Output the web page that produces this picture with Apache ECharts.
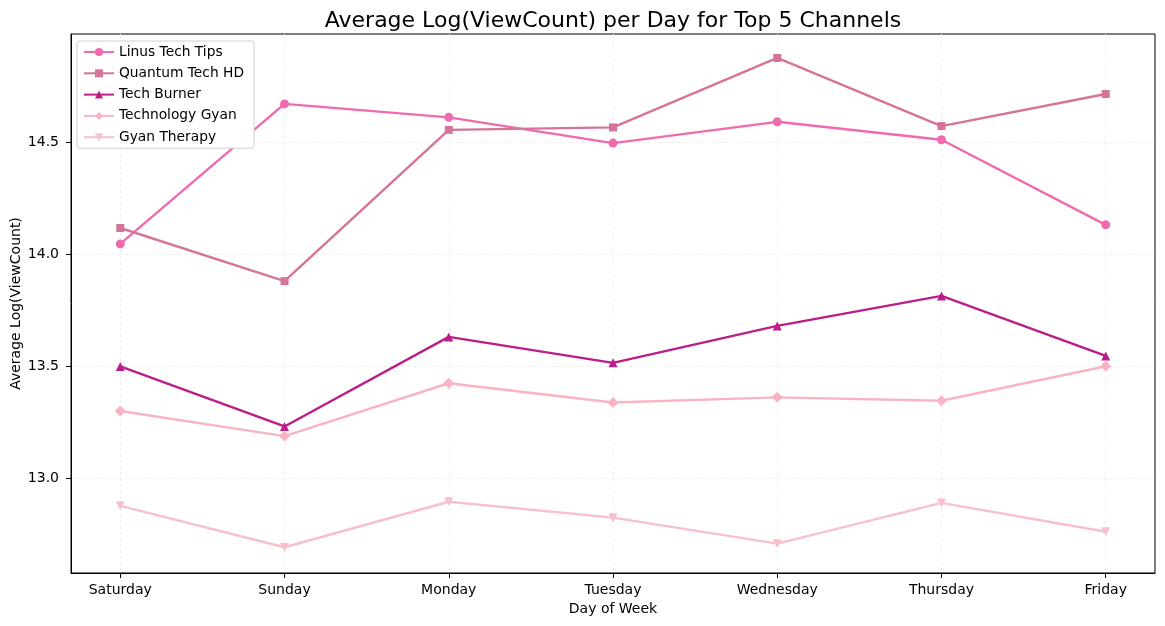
<!DOCTYPE html>
<html>
<head>
<meta charset="utf-8">
<script src="https://cdn.jsdelivr.net/npm/echarts@6/dist/echarts.min.js"></script>
<style>
html, body { margin: 0; padding: 0; background: #fff; }
#chart { width: 1165px; height: 626px; }
</style>
</head>
<body>
<div id="chart"></div>
<script>
// days along the x axis
var days = ['Saturday', 'Sunday', 'Monday', 'Tuesday', 'Wednesday', 'Thursday', 'Friday'];
var yTicks = [13.0, 13.5, 14.0, 14.5];

// average log(view count) per channel
var linusTechTips   = [14.045, 14.67, 14.61, 14.495, 14.59, 14.51, 14.13];
var quantumTechHD   = [14.116, 13.879, 14.554, 14.565, 14.875, 14.571, 14.714];
var techBurner      = [13.498, 13.23, 13.63, 13.514, 13.679, 13.813, 13.545];
var technologyGyan  = [13.299, 13.187, 13.423, 13.337, 13.36, 13.345, 13.499];
var gyanTherapy     = [12.876, 12.691, 12.894, 12.823, 12.707, 12.889, 12.76];

var channels = [
    { name: 'Linus Tech Tips', data: linusTechTips, color: '#f06aae', symbol: 'circle', size: 9 },
    { name: 'Quantum Tech HD', data: quantumTechHD, color: '#d5749a', symbol: 'rect', size: 8 },
    { name: 'Tech Burner', data: techBurner, color: '#bb1e88', symbol: 'triangle', size: 9 },
    { name: 'Technology Gyan', data: technologyGyan, color: '#f9b4c4', symbol: 'diamond', size: 11 },
    { name: 'Gyan Therapy', data: gyanTherapy, color: '#f8bfcc', symbol: 'path://M0,0 L10,0 L5,9 Z', size: 9 }
];

var font = 'DejaVu Sans';
var chart = echarts.init(document.getElementById('chart'));

var series = channels.map(function (c) {
    return {
        name: c.name,
        type: 'line',
        data: c.data.map(function (v, i) { return [i, v]; }),
        symbol: c.symbol,
        symbolSize: c.size,
        showSymbol: true,
        lineStyle: { width: 2.4, color: c.color },
        itemStyle: { color: c.color },
        emphasis: { disabled: true },
        animation: false
    };
});

var option = {
    backgroundColor: '#fff',
    textStyle: { fontFamily: font },
    title: {
        text: 'Average Log(ViewCount) per Day for Top 5 Channels',
        left: 608,
        textAlign: 'center',
        top: 5,
        textStyle: { fontFamily: font, fontSize: 22, fontWeight: 'normal', color: '#000' }
    },
    legend: {
        orient: 'vertical',
        left: 77,
        top: 41,
        padding: [4, 10, 4, 6],
        itemGap: 7.3,
        itemWidth: 30,
        itemHeight: 10,
        backgroundColor: '#fff',
        borderColor: '#d0d0d0',
        borderWidth: 1,
        borderRadius: 3,
        textStyle: { fontFamily: font, fontSize: 13.8, color: '#000' },
        data: channels.map(function (c) { return c.name; })
    },
    grid: {
        left: 71, right: 10, top: 34, bottom: 53,
        outerBoundsMode: 'none',
        containLabel: false,
        show: true, borderColor: '#000', borderWidth: 1
    },
    xAxis: {
        type: 'value',
        min: -0.3,
        max: 6.3,
        name: 'Day of Week',
        nameLocation: 'middle',
        nameGap: 29,
        nameMoveOverlap: false,
        nameTextStyle: { fontFamily: font, fontSize: 14, color: '#000' },
        axisLine: { show: true, onZero: false, lineStyle: { color: '#000', width: 1 } },
        axisTick: { show: true, length: 5, lineStyle: { color: '#000' }, customValues: [0, 1, 2, 3, 4, 5, 6] },
        axisLabel: {
            color: '#000', fontSize: 14, fontFamily: font, margin: 10,
            customValues: [0, 1, 2, 3, 4, 5, 6],
            formatter: function (v) { return days[Math.round(v)]; }
        },
        splitLine: { show: true, lineStyle: { color: '#eeeeee', type: [3, 3], width: 1 } }
    },
    yAxis: {
        type: 'value',
        min: 12.576,
        max: 14.982,
        name: 'Average Log(ViewCount)',
        nameLocation: 'middle',
        nameGap: 48,
        nameMoveOverlap: false,
        nameTextStyle: { fontFamily: font, fontSize: 14, color: '#000' },
        axisLine: { show: true, onZero: false, lineStyle: { color: '#000', width: 1 } },
        axisTick: { show: true, length: 5, lineStyle: { color: '#000' }, customValues: yTicks },
        axisLabel: {
            color: '#000', fontSize: 14, fontFamily: font, margin: 12,
            customValues: yTicks,
            formatter: function (v) { return v.toFixed(1); }
        },
        splitLine: { show: true, lineStyle: { color: '#eeeeee', type: [3, 3], width: 1 } }
    },
    series: series
};

chart.setOption(option);
</script>
</body>
</html>
